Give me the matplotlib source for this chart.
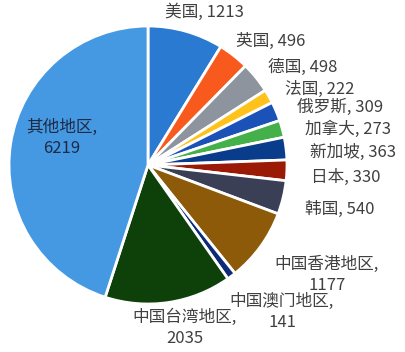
import matplotlib
matplotlib.use('Agg')
import matplotlib.pyplot as plt

plt.rcParams['font.family'] = ['Noto Sans CJK SC', 'DejaVu Sans']

# data
regions = ['美国', '英国', '德国', '法国', '俄罗斯', '加拿大', '新加坡', '日本',
           '韩国', '中国香港地区', '中国澳门地区', '中国台湾地区', '其他地区']
counts = [1213, 496, 498, 222, 309, 273, 363, 330, 540, 1177, 141, 2035, 6219]
colors = ['#2A7AD2', '#F85A1E', '#8E949E', '#FFC21A', '#1A52B8', '#44B04A',
          '#0A3C8C', '#9A1A06', '#3A3F55', '#8C5A08', '#0C2A78', '#0E400A',
          '#4499E2']
# label centres in pixels (x from left, y from top)
label_px = [(204, 12), (271, 41), (303, 67), (320, 89), (340, 107), (348, 129),
            (353, 152), (346, 177), (340, 209), (327, 275), (282, 312),
            (185, 328), (62, 138)]
two_line = {'中国香港地区', '中国澳门地区', '中国台湾地区', '其他地区'}

W, H = 405, 352
cx, cy, r = 148, 165, 139

fig = plt.figure(figsize=(W / 100, H / 100), dpi=100)
ax = fig.add_axes([(cx - r) / W, (H - cy - r) / H, 2 * r / W, 2 * r / H])
ax.pie(counts, colors=colors, startangle=90, counterclock=False, radius=1,
       wedgeprops=dict(edgecolor='white', linewidth=2))
ax.set_xlim(-1, 1)
ax.set_ylim(-1, 1)
ax.axis('off')

for name, val, (px, py) in zip(regions, counts, label_px):
    sep = ',\n' if name in two_line else ', '
    tc = '#1F2A44' if name == '其他地区' else '#404040'
    ax.text((px - cx) / r, (cy - py) / r, f'{name}{sep}{val}', ha='center',
            va='center', fontsize=12, color=tc, linespacing=1.35, clip_on=False)

fig.savefig('out.png', dpi=100)
